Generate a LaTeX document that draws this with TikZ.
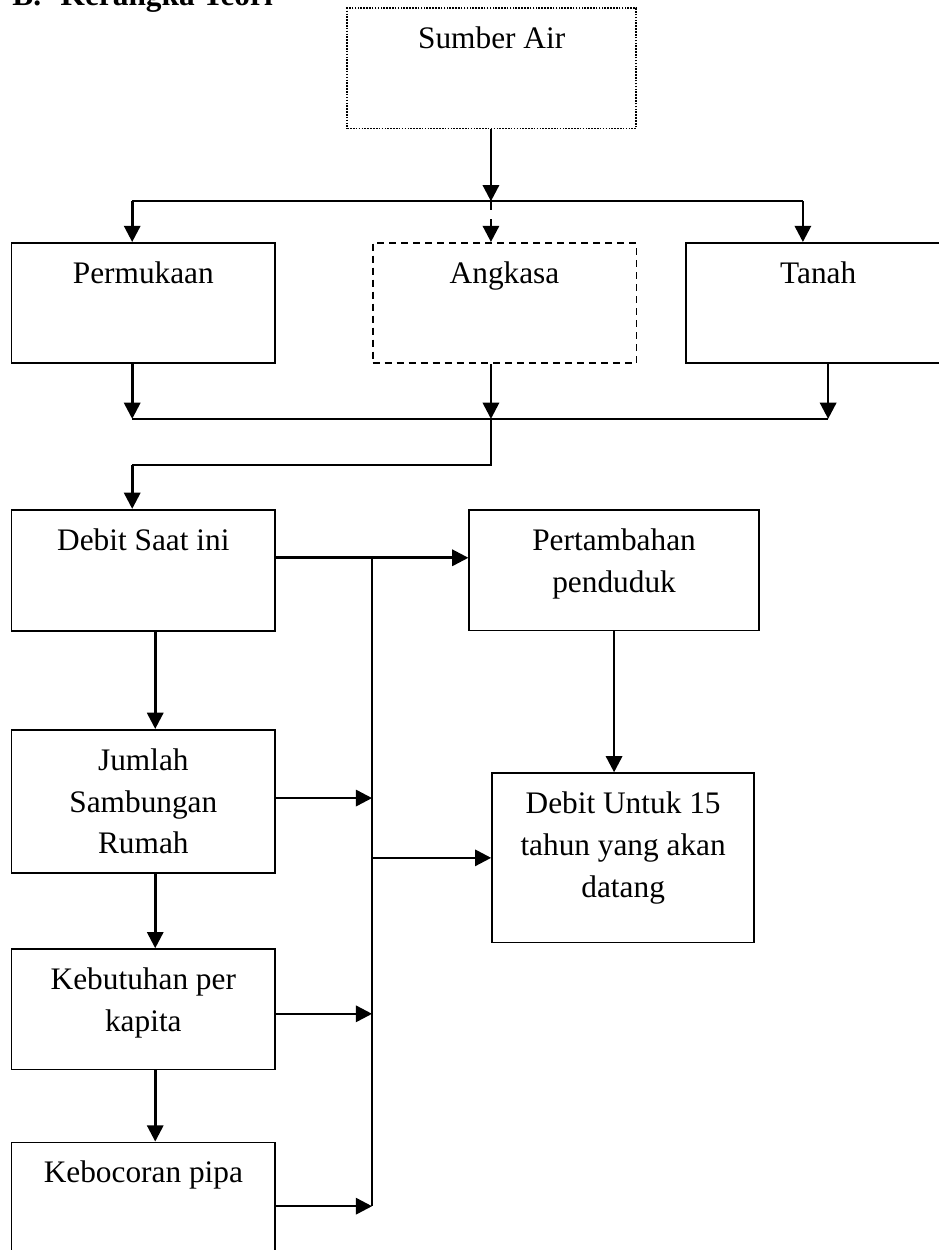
\documentclass[tikz,border=0pt]{standalone}
\usepackage{fontspec}
\setmainfont{Liberation Serif}
\usetikzlibrary{arrows.meta,positioning}

\begin{document}
\begin{tikzpicture}[node distance=1.95cm and 1.29cm,
  kotak/.style={draw,line width=.65pt,minimum width=3.55cm,minimum height=1.62cm,inner sep=0pt},
  isi/.style={anchor=north,yshift=-7.3pt,inner sep=0pt,align=center,font=\fontsize{12}{16}\selectfont},
  garis/.style={line width=.65pt},
  panah/.style={line width=1pt,-{Triangle[length=6.2pt,width=6.2pt]}}]
\useasboundingbox (0,0) rectangle (12.63,-16.83);
\node[anchor=base west,inner sep=0pt,font=\fontsize{12}{14}\selectfont\bfseries] (judul) at (.16,-.07) {B.\hspace{7.5pt}Kerangka Teori};
% sumber dan jenisnya
\node[kotak,minimum width=3.89cm,dash pattern=on .6pt off .5pt,label={[isi]north:Sumber Air}] (sumber) at (6.62,-.92) {};
\node[kotak,label={[isi]north:Permukaan}] (perm) at (1.93,-4.08) {};
\node[kotak,dash pattern=on 2.7pt off 1.9pt,right=of perm,label={[isi]north:Angkasa}] (angk) {};
\node[kotak,right=.65cm of angk,label={[isi]north:Tanah}] (tanah) {};
% kolom kiri
\node[kotak,minimum height=1.63cm,below=of perm,label={[isi]north:Debit Saat ini}] (debit) {};
\node[kotak,minimum height=1.93cm,below=1.31cm of debit,label={[isi]north:Jumlah\\Sambungan\\Rumah}] (jumlah) {};
\node[kotak,below=1cm of jumlah,label={[isi]north:Kebutuhan per\\kapita}] (kebutuhan) {};
\node[kotak,below=.96cm of kebutuhan,label={[isi]north:Kebocoran pipa}] (kebocoran) {};
% kolom kanan
\node[kotak,minimum width=3.9cm,right=2.59cm of debit,label={[isi]north:Pertambahan\\penduduk}] (pert) {};
\node[kotak,minimum width=3.53cm,minimum height=2.28cm,label={[isi]north:Debit Untuk 15\\tahun yang akan\\datang}] (debituntuk) at (8.39,-11.55) {};
% titik cabang
\coordinate (atas1) at (1.78,-2.71);
\coordinate (atas2) at (6.61,-2.71);
\coordinate (atas3) at (10.81,-2.71);
\coordinate (bawah1) at (1.78,-5.64);
\coordinate (bawah2) at (6.61,-5.64);
\coordinate (bawah3) at (11.15,-5.64);
\coordinate (belok) at (1.78,-6.26);
\coordinate (kolom) at (2.09,0);
\coordinate (jalur) at (5.01,-7.51);
\coordinate (masuk1) at (5.01,-10.745);
\coordinate (masuk2) at (5.01,-13.65);
\coordinate (masuk3) at (5.01,-16.24);
\coordinate (keluar) at (5.01,-11.55);
% percabangan atas
\draw[panah] (sumber.south -| atas2) -- (atas2);
\draw[garis] (atas1) -- (atas3);
\draw[panah] (atas1) -- (atas1 |- perm.north);
\draw[panah,dash pattern=on 3.4pt off 3.4pt] (atas2) -- (atas2 |- angk.north);
\draw[panah] (atas3) -- (atas3 |- tanah.north);
\draw[panah] (bawah1 |- perm.south) -- (bawah1);
\draw[panah] (bawah2 |- angk.south) -- (bawah2);
\draw[panah] (bawah3 |- tanah.south) -- (bawah3);
\draw[garis] (bawah1) -- (bawah3);
\draw[garis] (bawah2) |- (belok);
\draw[panah] (belok) -- (belok |- debit.north);
% kolom kiri ke bawah
\draw[panah] (debit.south -| kolom) -- (jumlah.north -| kolom);
\draw[panah] (jumlah.south -| kolom) -- (kebutuhan.north -| kolom);
\draw[panah] (kebutuhan.south -| kolom) -- (kebocoran.north -| kolom);
% jalur ke kanan
\draw[panah] (debit.east |- jalur) -- (pert.west |- jalur);
\draw[garis] (jalur) -- (masuk3);
\draw[panah] (jumlah.east |- masuk1) -- (masuk1);
\draw[panah] (kebutuhan.east |- masuk2) -- (masuk2);
\draw[panah] (kebocoran.east |- masuk3) -- (masuk3);
\draw[panah] (keluar) -- (debituntuk.west);
\draw[panah] (pert.south) -- (pert.south |- debituntuk.north);
\end{tikzpicture}
\end{document}
